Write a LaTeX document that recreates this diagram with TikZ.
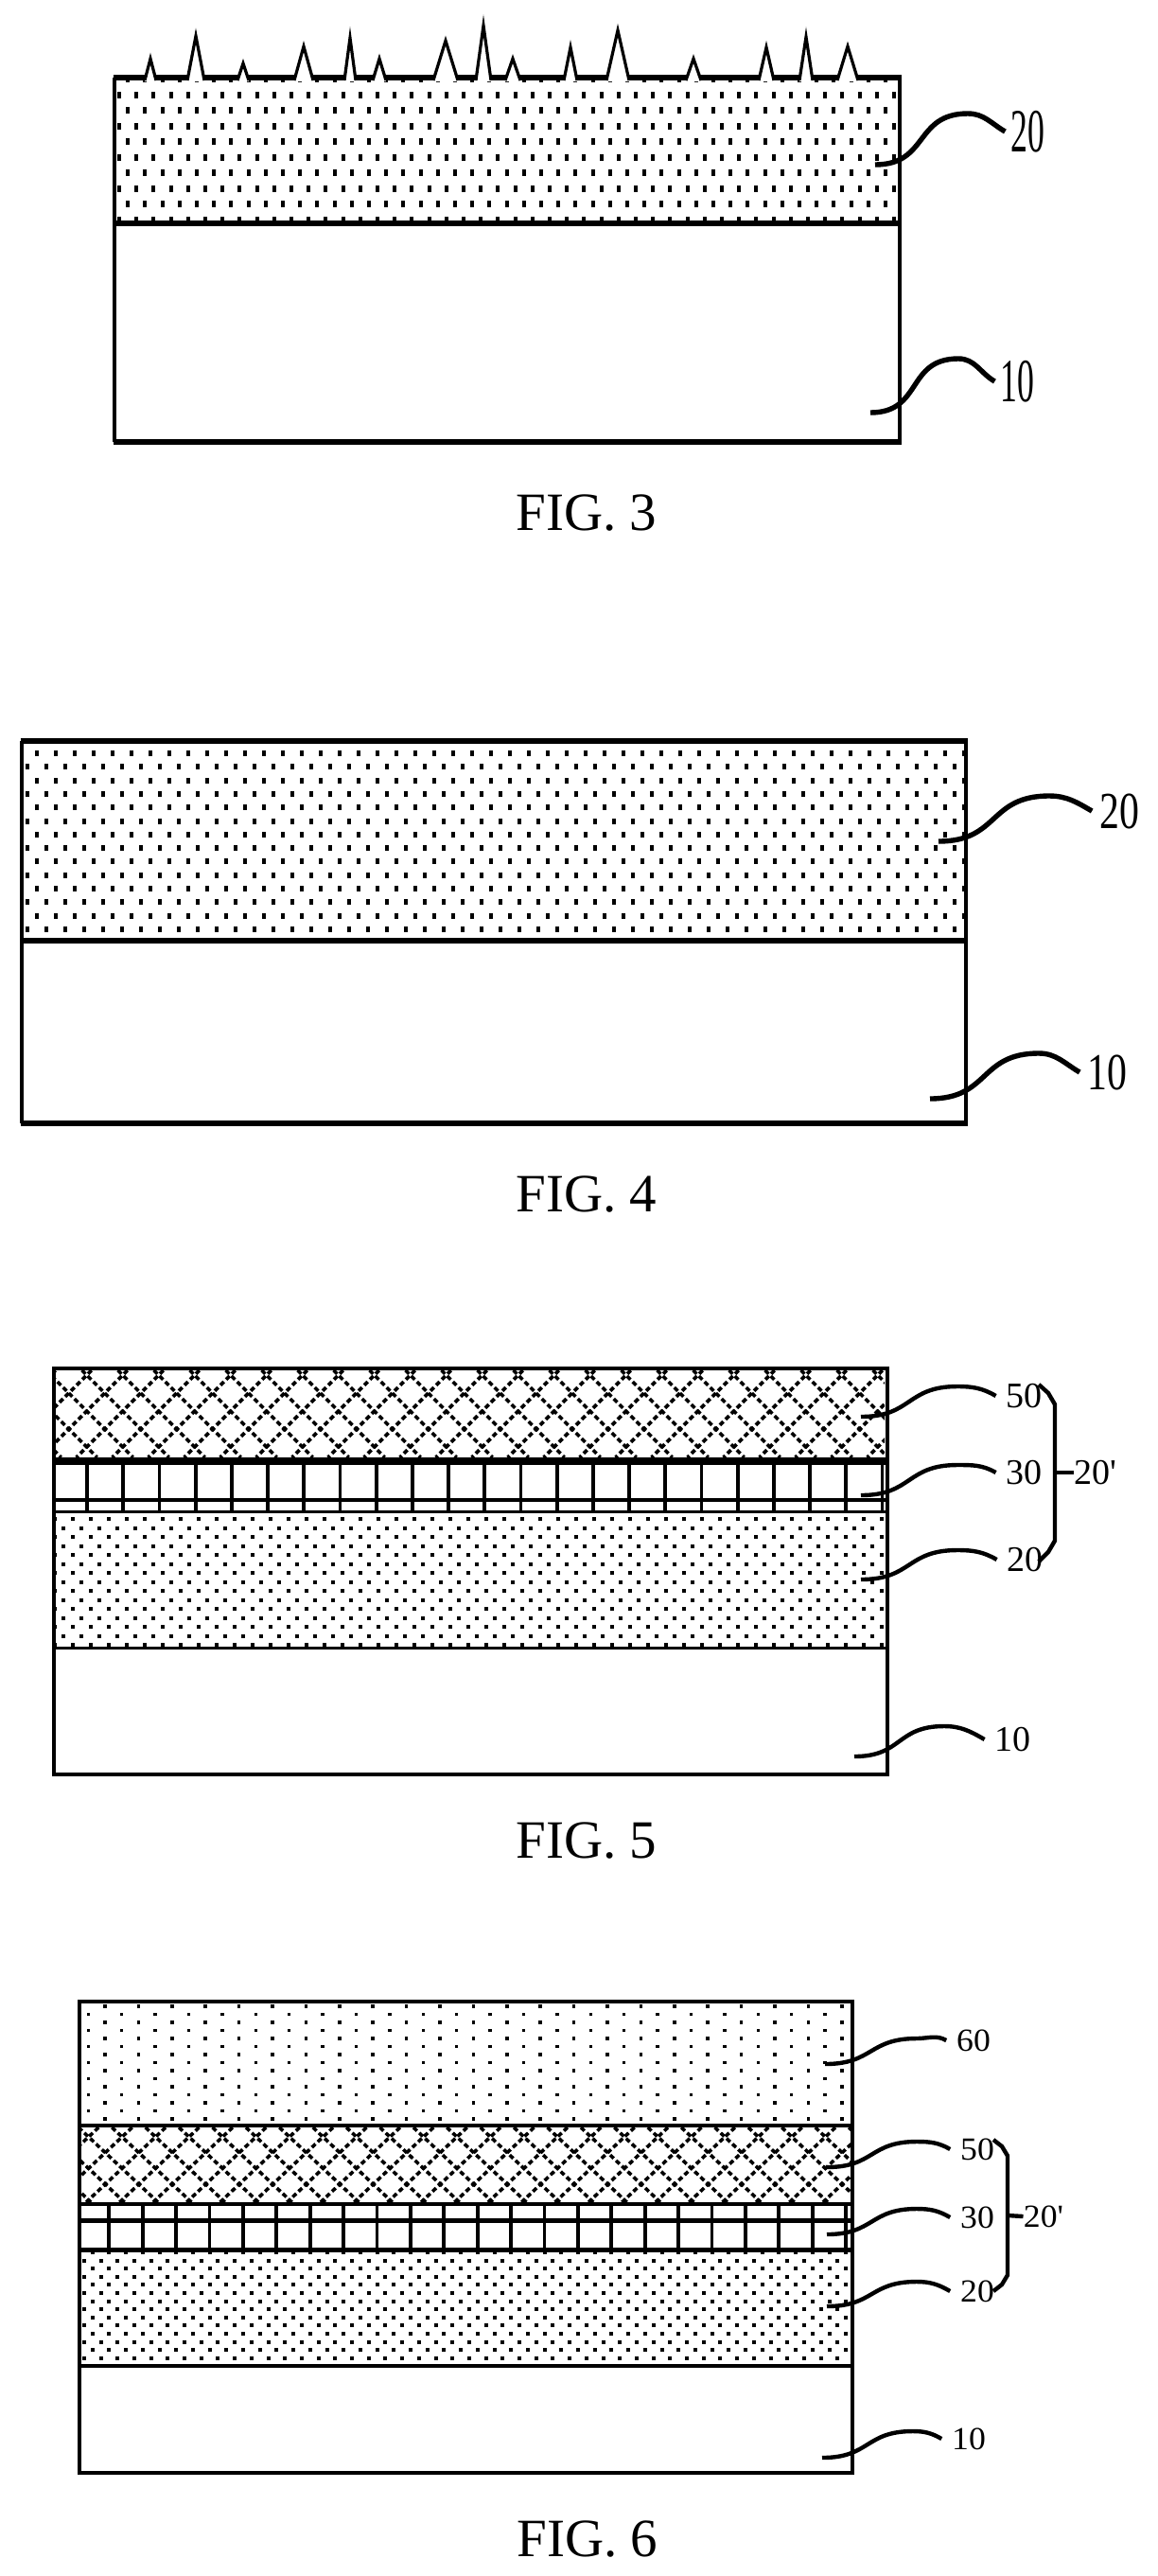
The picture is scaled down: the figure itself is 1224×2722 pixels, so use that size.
\documentclass[tikz,border=0pt]{standalone}
\usepackage{fontspec}
\setmainfont{Liberation Serif}[Ligatures=TeXOff]
\usetikzlibrary{calc}
\tikzset{
    caption/.style={inner sep=0pt, font=\fontsize{28.5}{30}\selectfont},
    tag/.style 2 args={
        inner ysep=0pt, inner xsep=5pt,
        font=\fontsize{#1}{#1}\selectfont,
        xscale=#2, transform shape
    },
    leaderline/.style={line width=2.2pt},
    bracket/.style={line width=2.2pt, line join=round},
    edge/.style={line width=1.9pt},
    heavy/.style={line width=3pt},
    spike/.style={line width=1.6pt, miter limit=20},
    mesh/.style={line width=1.8pt, dash pattern=on 2.6pt off 1.65pt}
}
\def\dotw{4}
\def\doth{4}
% region x1 y1 x2 y2, first dot x y, pitch x y
\newcommand{\dotlayer}[8]{
  \begin{scope}
    \clip (#1,#2) rectangle (#3,#4);
    \pgfmathtruncatemacro{\nrow}{ceil((#4-#6)/#8)}
    \pgfmathtruncatemacro{\ncol}{ceil((#3-#5)/#7)+1}
    \foreach \rowi in {0,...,\nrow}{
      \pgfmathsetmacro{\doty}{#6+\rowi*#8}
      \pgfmathsetmacro{\dotx}{#5+mod(\rowi,2)*#7/2}
      \foreach \coli in {-1,...,\ncol}
        \fill ({\dotx+\coli*#7-\dotw/2},{\doty-\doth/2}) rectangle +(\dotw,\doth);
    }
  \end{scope}
}
% region x1 y1 x2 y2, one crossing x y, pitch x y
\newcommand{\meshlayer}[8]{
  \begin{scope}
    \clip (#1,#2) rectangle (#3,#4);
    \foreach \k in {-30,...,30}{
      \draw[mesh] ({#5+\k*#7+(#2-#6)*#7/#8},#2) -- ({#5+\k*#7+(#4-#6)*#7/#8},#4);
      \draw[mesh] ({#5+\k*#7-(#2-#6)*#7/#8},#2) -- ({#5+\k*#7-(#4-#6)*#7/#8},#4);
    }
  \end{scope}
}
\newcommand{\leader}[4][]{
  \draw[leaderline,#1] (#2) to[out=0,in=180,looseness=1.3] (#3) to[out=0,in=150] (#4.west);
}
\begin{document}
\begin{tikzpicture}[x=0.5pt, y=-0.5pt]
  \useasboundingbox (0,0) rectangle (1224,2722);

  % FIG. 3
  \def\dotw{4}\def\doth{7}
  \dotlayer{123}{85}{949}{233}{126}{67}{18.2}{16.5}
  \draw[edge] (121,82) -- (121,467) (951,82) -- (951,467);
  \draw[heavy] (119.5,82) -- (952.5,82) (121,236) -- (951,236) (119.5,467) -- (952.5,467);
  \foreach \sx/\sy/\sw in {159/62/6, 207/38/9, 257/67/6, 321/49/10, 370/40/6,
      401/62/7, 471/43/13, 511/27/8, 542/62/8, 603/50/7, 653/32/12, 733/62/8,
      810/50/8, 852/39/7, 896/49/11}{
    \fill[white] ({\sx-\sw},86) -- (\sx,\sy) -- ({\sx+\sw},86) -- cycle;
    \draw[spike] ({\sx-\sw},85) -- (\sx,\sy) -- ({\sx+\sw},85);
  }
  \node[tag={32.5}{.55}] (a20) at (1086,139) {20};
  \node[tag={32.5}{.55}] (a10) at (1075,403) {10};
  \coordinate (a20s) at (925,174);
  \coordinate (a20h) at (1023,120);
  \coordinate (a10s) at (920,436);
  \coordinate (a10h) at (1013,379);
  \leader[line width=2.7pt]{a20s}{a20h}{a20}
  \leader[line width=2.7pt]{a10s}{a10h}{a10}
  \node[caption] (capa) at (620,542) {FIG. 3};

  % FIG. 4
  \def\dotw{4.5}\def\doth{6}
  \dotlayer{25}{787}{1019}{991}{39}{796}{20}{14.3}
  \draw[edge] (23,783) -- (23,1187) (1021,783) -- (1021,1187);
  \draw[heavy] (21.5,783) -- (1022.5,783) (23,994) -- (1021,994) (21.5,1187) -- (1022.5,1187);
  \node[tag={27.5}{.76}] (b20) at (1183,857) {20};
  \node[tag={27.5}{.76}] (b10) at (1170,1133) {10};
  \coordinate (b20s) at (992,889);
  \coordinate (b20h) at (1109,841);
  \coordinate (b10s) at (983,1161);
  \coordinate (b10h) at (1098,1113);
  \leader[line width=2.7pt]{b20s}{b20h}{b20}
  \leader[line width=2.7pt]{b10s}{b10h}{b10}
  \node[caption] (capb) at (620,1262) {FIG. 4};

  % FIG. 5
  \def\dotw{4}\def\doth{4}
  \meshlayer{59}{1448}{935}{1540}{851.7}{1453}{38}{38}
  \dotlayer{59}{1599.5}{935}{1739.5}{57.7}{1605}{19}{9.5}
  \draw[edge] (57,1446) rectangle (938,1875) (57,1741.5) -- (938,1741.5)
              (57,1585) -- (938,1585) (57,1597.5) -- (938,1597.5);
  \draw[line width=4pt] (57,1544) -- (938,1544);
  \foreach \k in {0,...,22}
    \draw[edge] ({92+\k*38.2},1544) -- ({92+\k*38.2},1597.5);
  \node[tag={19}{1}] (c50) at (1082,1475) {50};
  \node[tag={19}{1}] (c30) at (1082,1556) {30};
  \node[tag={19}{1}] (c20) at (1083,1648) {20};
  \node[tag={19}{1}] (c10) at (1070,1838) {10};
  \node[tag={19}{1}, inner xsep=0pt] (c2p) at (1158,1556) {20'};
  \coordinate (c50s) at (910,1497);
  \coordinate (c50h) at (1012,1465);
  \coordinate (c30s) at (910,1580);
  \coordinate (c30h) at (1012,1548);
  \coordinate (c20s) at (910,1669);
  \coordinate (c20h) at (1012,1638);
  \coordinate (c10s) at (903,1856);
  \coordinate (c10h) at (998,1824);
  \leader{c50s}{c50h}{c50}
  \leader{c30s}{c30h}{c30}
  \leader{c20s}{c20h}{c20}
  \leader{c10s}{c10h}{c10}
  \coordinate (cbt) at (1098,1463);
  \coordinate (cbb) at (1098,1650);
  \coordinate (cbm) at (1115,1556);
  \draw[bracket] (cbt) -- (1108,1472) -- (1115,1484) -- (1115,1628) -- (1108,1640) -- (cbb);
  \draw[bracket] (cbm) -- (c2p.west);
  \node[caption] (capc) at (620,1945) {FIG. 5};

  % FIG. 6
  \def\dotw{3.5}\def\doth{3.5}
  \dotlayer{86}{2117}{899}{2244}{75.6}{2120}{35.4}{8.5}
  \def\dotw{4}\def\doth{4}
  \meshlayer{86}{2248}{899}{2327}{129}{2258}{35.4}{33.3}
  \dotlayer{86}{2379.5}{899}{2498}{80}{2380}{17.7}{8.6}
  \draw[edge] (84,2115) rectangle (901,2613) (84,2246) -- (901,2246)
              (84,2329) -- (901,2329) (84,2500) -- (901,2500);
  \draw[line width=2.5pt] (84,2346) -- (901,2346) (84,2377) -- (901,2377);
  \foreach \k in {0,...,22}
    \draw[edge] ({115.3+\k*35.4},2329) -- ({115.3+\k*35.4},2377);
  \node[tag={17}{1.05}] (d60) at (1029,2156) {60};
  \node[tag={17}{1.05}] (d50) at (1033,2271) {50};
  \node[tag={17}{1.05}] (d30) at (1033,2343) {30};
  \node[tag={17}{1.05}] (d20) at (1033,2421) {20};
  \node[tag={17}{1.05}] (d10) at (1024,2577) {10};
  \node[tag={17}{1.05}, inner xsep=0pt] (d2p) at (1103,2342) {20'};
  \coordinate (d60s) at (872,2181);
  \coordinate (d60h) at (969,2154);
  \coordinate (d50s) at (874,2290);
  \coordinate (d50h) at (969,2263);
  \coordinate (d30s) at (874,2361);
  \coordinate (d30h) at (969,2334);
  \coordinate (d20s) at (874,2437);
  \coordinate (d20h) at (969,2411);
  \coordinate (d10s) at (869,2597);
  \coordinate (d10h) at (965,2569);
  \leader{d60s}{d60h}{d60}
  \leader{d50s}{d50h}{d50}
  \leader{d30s}{d30h}{d30}
  \leader{d20s}{d20h}{d20}
  \leader{d10s}{d10h}{d10}
  \coordinate (dbt) at (1050,2261);
  \coordinate (dbb) at (1050,2421);
  \coordinate (dbm) at (1065,2341);
  \draw[bracket] (dbt) -- (1059,2268) -- (1065,2278) -- (1065,2404) -- (1059,2414) -- (dbb);
  \draw[bracket] (dbm) -- (d2p.west);
  \node[caption] (capd) at (621,2683) {FIG. 6};
\end{tikzpicture}
\end{document}
